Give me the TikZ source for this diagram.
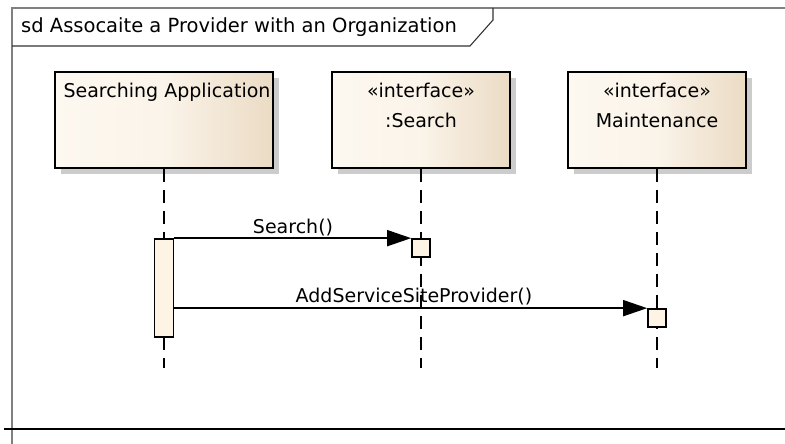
\documentclass[tikz,border=0pt]{standalone}
\usepackage{fontspec}
\setmainfont{DejaVu Sans}
\usetikzlibrary{arrows.meta,shadows}
\definecolor{boxL}{HTML}{FDF8F0}
\definecolor{boxR}{HTML}{EBDBC4}
\definecolor{actFill}{HTML}{FDF4E6}
\definecolor{frameGray}{HTML}{808080}
\tikzset{
  lifebox/.style={rectangle, draw=black, line width=1.8pt, inner sep=0pt,
    left color=boxL, right color=boxR, middle color=boxL!85!boxR,
    drop shadow={shadow xshift=6pt, shadow yshift=-6pt, fill=black!20, opacity=1}},
  lifeline/.style={draw=black, line width=1.8pt, dash pattern=on 13pt off 8pt},
  actbox/.style={rectangle, draw=black, line width=1.7pt, fill=actFill, inner sep=0pt},
  msg/.style={draw=black, line width=1.7pt, -{Triangle[length=24pt,width=16pt]}},
  lbl/.style={inner sep=0pt, font=\fontsize{19}{22}\selectfont},
}
\begin{document}
\begin{tikzpicture}[x=1pt,y=-1pt]
\useasboundingbox (0,0) rectangle (785,444);
\fill[white] (0,0) rectangle (785,444);
% frame
\draw[frameGray, line width=1.6pt] (12,444) -- (12,8) -- (785,8);
\draw[black!80, line width=1.1pt] (12,46) -- (470,46) -- (493,20) -- (493,8);
\node[lbl, anchor=base west, font=\fontsize{19.5}{22}\selectfont] (title) at (21,33) {sd Assocaite a Provider with an Organization};
\draw[black, line width=2.5pt] (4,429) -- (785,429);
% lifeline heads
\node[lifebox, minimum width=218pt, minimum height=96pt] (sa) at (164,120) {};
\node[lifebox, minimum width=178pt, minimum height=96pt] (se) at (421,120) {};
\node[lifebox, minimum width=178pt, minimum height=96pt] (mt) at (657,120) {};
\node[lbl, anchor=base] (saT) at (167,97) {Searching Application};
\node[lbl, anchor=base] (seT1) at (421,97) {«interface»};
\node[lbl, anchor=base] (seT2) at (421,128) {:Search};
\node[lbl, anchor=base] (mtT1) at (657,97) {«interface»};
\node[lbl, anchor=base] (mtT2) at (657,128) {Maintenance};
% lifeline ends
\coordinate (saE) at (164,368);
\coordinate (seE) at (421,368);
\coordinate (mtE) at (657,368);
\draw[lifeline] (sa.south) -- (saE);
\draw[lifeline] (se.south) -- (seE);
\draw[lifeline] (mt.south) -- (mtE);
% activations
\node[actbox, minimum width=19pt, minimum height=98pt] (saA) at (164,288) {};
\node[actbox, minimum width=18pt, minimum height=18pt] (seA) at (421,248) {};
\node[actbox, minimum width=18pt, minimum height=18pt] (mtA) at (657,318) {};
% messages
\draw[msg] (saA.north east) -- (seA.north west);
\draw[msg] (saA.east |- mtA.north west) -- (mtA.north west);
\node[lbl, anchor=base] (m1) at (293,233) {Search()};
\node[lbl, anchor=base] (m2) at (414,302) {AddServiceSiteProvider()};
\end{tikzpicture}
\end{document}
